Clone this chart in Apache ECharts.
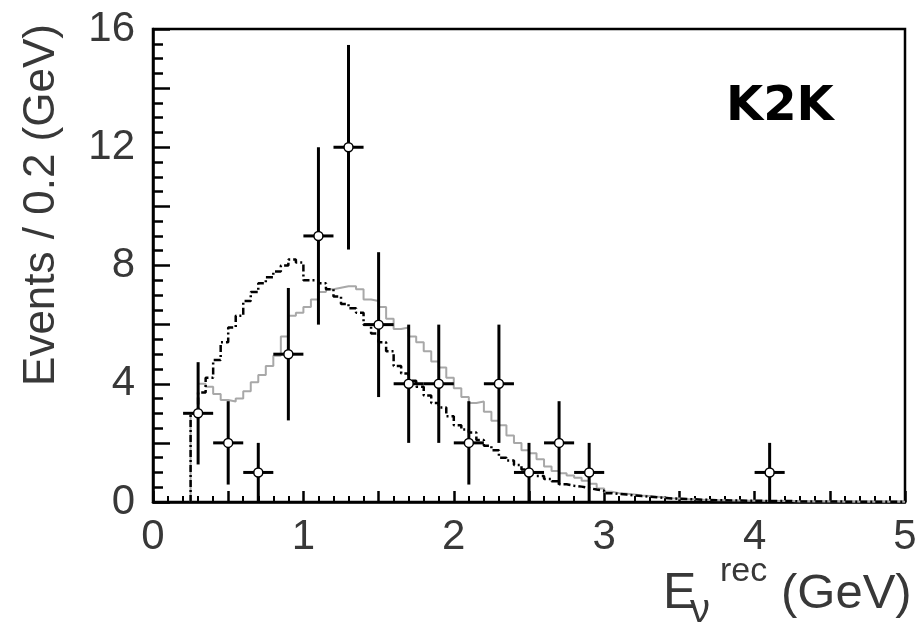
<!DOCTYPE html>
<html>
<head>
<meta charset="utf-8">
<script src="https://cdn.jsdelivr.net/npm/echarts@6/dist/echarts.min.js"></script>
<style>
  html, body { margin: 0; padding: 0; background: #fff; }
  #chart { width: 922px; height: 625px; }
</style>
</head>
<body>
<div id="chart"></div>
<script>
// Reconstructed neutrino energy spectrum, events per 0.2 GeV.
// Data points: bin centres (GeV), observed counts and their statistical errors.
const pointEnergy = [0.3, 0.5, 0.7, 0.9, 1.1, 1.3, 1.5, 1.7, 1.9, 2.1, 2.3, 2.5, 2.7, 2.9, 4.1];
const pointCounts = [3, 2, 1, 5, 9, 12, 6, 4, 4, 2, 4, 1, 2, 1, 1];
const pointErrors = [1.73, 1.41, 1.0, 2.24, 3.0, 3.46, 2.45, 2.0, 2.0, 1.41, 2.0, 1.0, 1.41, 1.0, 1.0];
const pointHalfWidth = 0.1;

// Expectation histograms, fine binning starting at histStart with width histBin.
const histStart = 0.25;
const histBin = 0.05;
const histEnd = 5.0;

// Expectation without oscillation (black, dash-dotted).
const noOscillation = [
  3.0, 3.7, 4.2, 4.8, 5.4, 5.9, 6.3, 6.8, 7.1, 7.4,
  7.6, 7.8, 8.0, 8.2, 8.1, 7.5, 7.5, 7.4, 7.2, 6.95,
  6.7, 6.55, 6.4, 6.0, 5.7, 5.4, 5.1, 4.6, 4.35, 4.1,
  3.9, 3.6, 3.35, 3.2, 2.9, 2.6, 2.45, 2.35, 2.1, 1.9,
  1.75, 1.5, 1.4, 1.25, 1.1, 1.0, 0.88, 0.78, 0.7, 0.6,
  0.55, 0.52, 0.47, 0.42, 0.38, 0.3, 0.27, 0.25, 0.22, 0.2,
  0.18, 0.16, 0.14, 0.12, 0.11, 0.1, 0.09, 0.08, 0.07, 0.06,
  0.06, 0.05, 0.05, 0.04, 0.04, 0.04, 0.03, 0.03, 0.03, 0.03,
  0.02, 0.02, 0.02, 0.02, 0.02, 0.02, 0.01, 0.01, 0.01, 0.01,
  0.01, 0.01, 0.01, 0.01, 0.01
];

// Best-fit oscillation expectation (grey, solid).
const bestFit = [
  3.0, 4.0, 3.9, 3.65, 3.45, 3.4, 3.5, 3.75, 4.05, 4.3,
  4.6, 4.95, 5.6, 6.3, 6.4, 6.6, 6.85, 7.1, 7.2, 7.25,
  7.3, 7.3, 7.2, 6.85, 6.8, 6.6, 6.2, 5.85, 5.9, 5.6,
  5.4, 5.1, 4.75, 4.55, 4.2, 3.85, 3.55, 3.35, 3.4, 3.05,
  2.75, 2.6, 2.25, 2.0, 1.75, 1.65, 1.45, 1.2, 1.05, 0.97,
  0.9, 0.82, 0.72, 0.62, 0.46, 0.35, 0.3, 0.28, 0.25, 0.22,
  0.2, 0.18, 0.16, 0.13, 0.12, 0.1, 0.09, 0.08, 0.07, 0.06,
  0.06, 0.05, 0.05, 0.04, 0.04, 0.04, 0.03, 0.03, 0.03, 0.03,
  0.02, 0.02, 0.02, 0.02, 0.02, 0.02, 0.01, 0.01, 0.01, 0.01,
  0.01, 0.01, 0.01, 0.01, 0.01
];

// Axis ticks
const xTicks = [0, 1, 2, 3, 4, 5];
const yTicks = [0, 4, 8, 12, 16];

function stepPoints(values) {
  const pts = [[histStart, 0]];
  values.forEach(function (v, i) {
    pts.push([+(histStart + i * histBin).toFixed(3), v]);
  });
  pts.push([histEnd, values[values.length - 1]]);
  return pts;
}

const pointData = pointEnergy.map(function (e, i) {
  return [e, pointCounts[i], pointErrors[i]];
});

const labelFont = 'Liberation Sans, Arial, sans-serif';
const textGrey = '#383838';

function renderPoint(params, api) {
  const x = api.value(0), y = api.value(1), err = api.value(2);
  const lo = Math.max(0, y - err), hi = y + err;
  const c = api.coord([x, y]);
  const pLo = api.coord([x, lo]);
  const pHi = api.coord([x, hi]);
  const pL = api.coord([x - pointHalfWidth, y]);
  const pR = api.coord([x + pointHalfWidth, y]);
  const stroke = { stroke: '#000', lineWidth: 3 };
  return {
    type: 'group',
    children: [
      { type: 'line', shape: { x1: pLo[0], y1: pLo[1], x2: pHi[0], y2: pHi[1] }, style: stroke },
      { type: 'line', shape: { x1: pL[0], y1: pL[1], x2: pR[0], y2: pR[1] }, style: stroke },
      { type: 'circle', shape: { cx: c[0], cy: c[1], r: 4.5 }, style: { fill: '#fff', stroke: '#000', lineWidth: 1.5 } }
    ]
  };
}

const chart = echarts.init(document.getElementById('chart'), null, { renderer: 'canvas' });

chart.setOption({
  animation: false,
  backgroundColor: '#fff',
  grid: {
    left: 153, right: 17, top: 29, bottom: 123,
    show: true, borderColor: '#000', borderWidth: 2.5, backgroundColor: 'transparent'
  },
  xAxis: {
    type: 'value', min: 0, max: 5, interval: 0.5,
    axisLine: { show: true, lineStyle: { color: '#000', width: 2.5 } },
    axisTick: { show: true, inside: true, length: 11, lineStyle: { color: '#000', width: 2.5 } },
    minorTick: { show: true, splitNumber: 5, length: 6, lineStyle: { color: '#000', width: 2 } },
    splitLine: { show: false },
    axisLabel: {
      fontSize: 42, color: textGrey, fontFamily: labelFont, margin: 14,
      formatter: function (v) { return xTicks.indexOf(v) >= 0 ? String(v) : ''; }
    }
  },
  yAxis: {
    type: 'value', min: 0, max: 16, interval: 2,
    axisLine: { show: true, lineStyle: { color: '#000', width: 2.5 } },
    axisTick: { show: true, inside: true, length: 17, lineStyle: { color: '#000', width: 2.5 } },
    minorTick: { show: true, splitNumber: 4, length: 10, lineStyle: { color: '#000', width: 2.5 } },
    splitLine: { show: false },
    axisLabel: {
      fontSize: 42, color: textGrey, fontFamily: labelFont, margin: 18,
      formatter: function (v) { return yTicks.indexOf(v) >= 0 ? String(v) : ''; }
    }
  },
  graphic: [
    { type: 'text', x: 42, y: 205, rotation: Math.PI / 2,
      style: { text: 'Events / 0.2 (GeV)', fontSize: 44, fontFamily: labelFont, fill: textGrey,
               align: 'center', verticalAlign: 'middle' } },
    { type: 'text', x: 663, y: 594,
      style: { text: 'E', fontSize: 50, fontFamily: labelFont, fill: textGrey, align: 'left', verticalAlign: 'middle' } },
    { type: 'text', x: 690, y: 611,
      style: { text: 'ν', fontSize: 40, fontFamily: labelFont, fill: textGrey, align: 'left', verticalAlign: 'middle' } },
    { type: 'text', x: 720, y: 572,
      style: { text: 'rec', fontSize: 34, fontFamily: labelFont, fill: textGrey, align: 'left', verticalAlign: 'middle' } },
    { type: 'text', x: 781, y: 594,
      style: { text: '(GeV)', fontSize: 49, fontFamily: labelFont, fill: textGrey, align: 'left', verticalAlign: 'middle' } },
    { type: 'text', x: 726, y: 108,
      style: { text: 'K2K', fontSize: 48, fontWeight: 'bold', fontFamily: 'DejaVu Sans, Verdana, sans-serif',
               fill: '#000', align: 'left', verticalAlign: 'middle' } }
  ],
  series: [
    {
      name: 'best fit', type: 'line', step: 'end', showSymbol: false, z: 2,
      data: stepPoints(bestFit),
      lineStyle: { color: '#a8a8a8', width: 2 }
    },
    {
      name: 'no oscillation', type: 'line', step: 'end', showSymbol: false, z: 3,
      data: stepPoints(noOscillation),
      lineStyle: { color: '#000', width: 2.5, type: [7, 3, 2, 3] }
    },
    {
      name: 'data', type: 'custom', z: 5,
      renderItem: renderPoint,
      data: pointData
    }
  ]
});
</script>
</body>
</html>
